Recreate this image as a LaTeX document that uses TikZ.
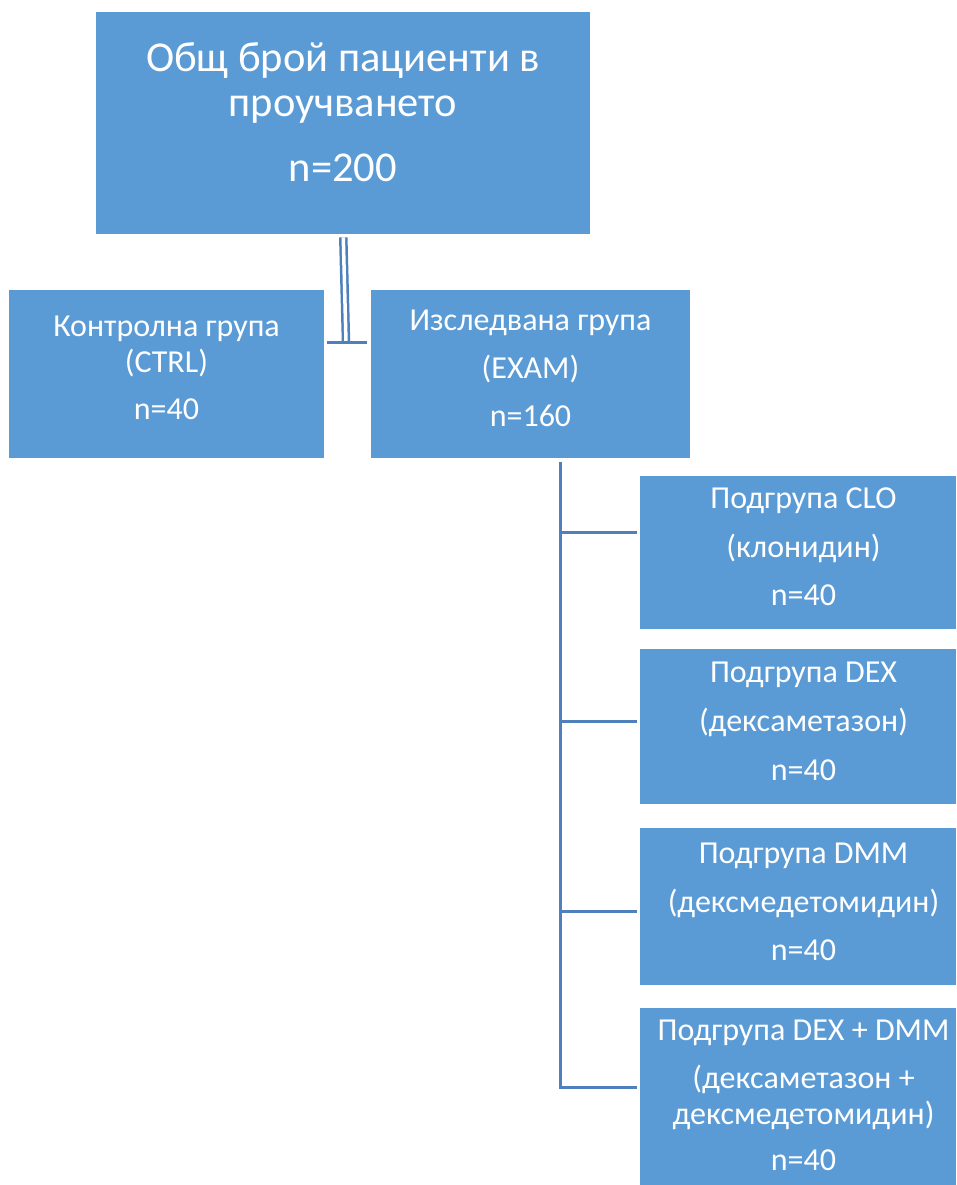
\documentclass[tikz,border=0pt]{standalone}
\usepackage{fontspec}
\setmainfont{Carlito}
\definecolor{boxblue}{HTML}{5B9BD5}
\definecolor{lineblue}{HTML}{4E80BC}
\begin{document}
\begin{tikzpicture}[x=1pt,y=-1pt,
  box/.style={fill=boxblue, draw=none, inner sep=0pt, anchor=north west},
  bigtxt/.style={text=white, align=center, inner sep=0pt, font=\fontsize{42.5}{45}\selectfont},
  smalltxt/.style={text=white, align=center, inner sep=0pt, font=\fontsize{32}{36}\selectfont},
  conn/.style={draw=lineblue, line width=3pt},
  dconn/.style={draw=lineblue, line width=2.5pt, double=white, double distance=3.5pt}]
\useasboundingbox[fill=white] (0,0) rectangle (956,1185);
% boxes
\node[box, minimum width=494pt, minimum height=222pt] (top) at (96,12) {};
\node[box, minimum width=315pt, minimum height=168pt] (ctrl) at (9,290) {};
\node[box, minimum width=319pt, minimum height=168pt] (exam) at (371,290) {};
\node[box, minimum width=316pt, minimum height=153pt] (clo) at (640,476) {};
\node[box, minimum width=316pt, minimum height=155pt] (dex) at (640,649) {};
\node[box, minimum width=316pt, minimum height=157pt] (dmm) at (640,828) {};
\node[box, minimum width=316pt, minimum height=177pt] (both) at (640,1008) {};
% texts
\node[bigtxt] (toptxt) at (343,112) {Общ брой пациенти в\\проучването\\[20pt]n=200};
\node[smalltxt] (ctrltxt) at (166.5,367.5) {Контролна група\\(CTRL)\\[11pt]n=40};
\node[smalltxt] (examtxt) at (530.5,368) {Изследвана група\\[12pt](EXAM)\\[12pt]n=160};
\node[smalltxt] (clotxt) at (803.5,547) {Подгрупа CLO\\[13pt](клонидин)\\[12pt]n=40};
\node[smalltxt] (dextxt) at (803.5,721) {Подгрупа DEX\\[13pt](дексаметазон)\\[13pt]n=40};
\node[smalltxt] (dmmtxt) at (803.5,901.5) {Подгрупа DMM\\[13pt](дексмедетомидин)\\[12pt]n=40};
\node[smalltxt] (bothtxt) at (803.5,1095) {Подгрупа DEX + DMM\\[12pt](дексаметазон +\\дексмедетомидин)\\[10pt]n=40};
% connectors
\coordinate (j) at (346,342);
\draw[dconn, shorten <=3pt] (top.south) -- (j);
\draw[conn, shorten <=3pt, shorten >=4pt] (ctrl.east |- j) -- (exam.west |- j);
\coordinate (s0) at (560,462);
\coordinate (b1) at (560,532);
\coordinate (b2) at (560,721);
\coordinate (b3) at (560,911);
\coordinate (b4) at (560,1087);
\draw[conn] (s0) -- (b4);
\draw[conn, shorten >=3pt] (b1) -- (b1 -| clo.west);
\draw[conn, shorten >=3pt] (b2) -- (b2 -| dex.west);
\draw[conn, shorten >=3pt] (b3) -- (b3 -| dmm.west);
\draw[conn, shorten >=3pt, shorten <=-1.5pt] (b4) -- (b4 -| both.west);
\end{tikzpicture}
\end{document}
